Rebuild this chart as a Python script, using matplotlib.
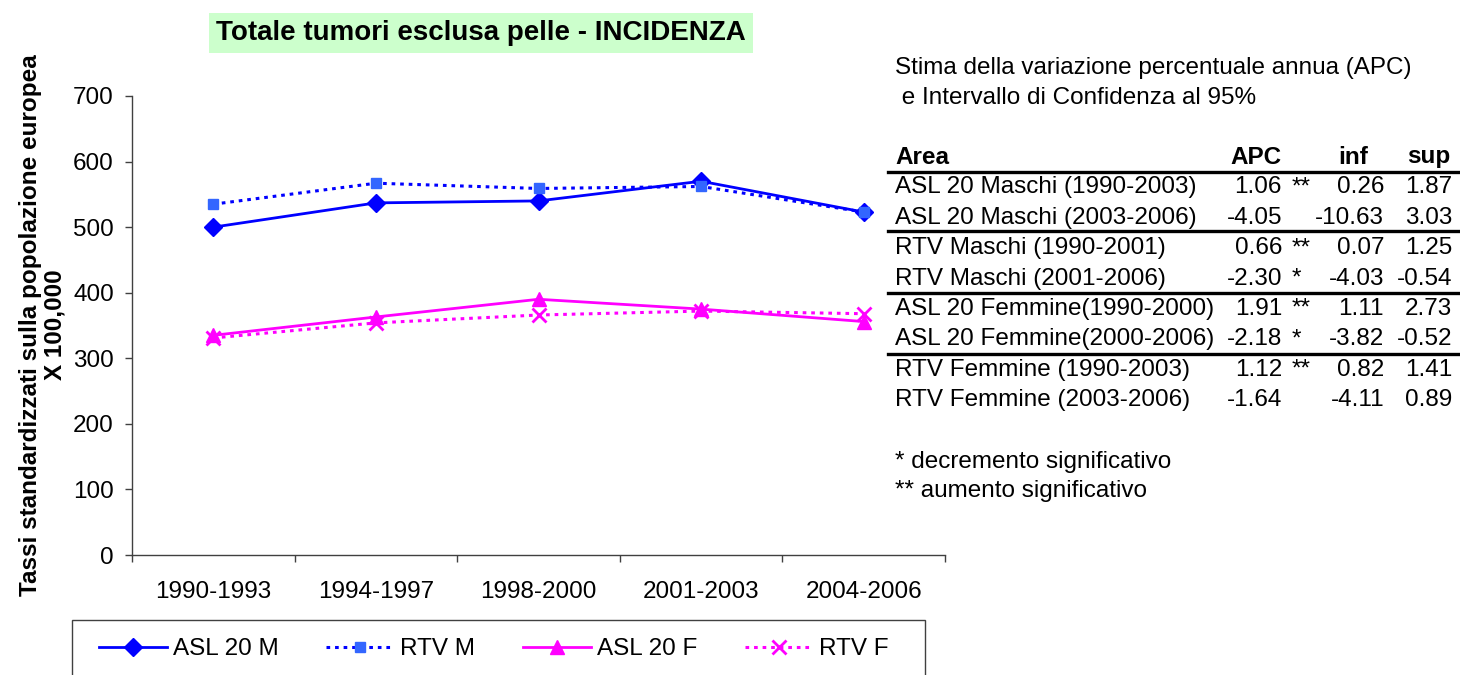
import matplotlib
matplotlib.use("Agg")
import matplotlib.pyplot as plt
from matplotlib.lines import Line2D
from matplotlib.patches import Rectangle

plt.rcParams['font.family'] = ['Liberation Sans', 'DejaVu Sans']

categories = ['1990-1993', '1994-1997', '1998-2000', '2001-2003', '2004-2006']
asl_m = [500, 537, 540, 570, 523]
rtv_m = [535, 567, 559, 562, 523]
asl_f = [335, 363, 390, 375, 356]
rtv_f = [331, 354, 366, 372, 368]
series_labels = ['ASL 20 M', 'RTV M', 'ASL 20 F', 'RTV F']

title = 'Totale tumori esclusa pelle - INCIDENZA'
ylabel = 'Tassi standardizzati sulla popolazione europea\nX 100,000'
yticks = [0, 100, 200, 300, 400, 500, 600, 700]

table_title = ['Stima della variazione percentuale annua (APC)', ' e Intervallo di Confidenza al 95%']
table_header = ['Area', 'APC', 'inf', 'sup']
table_area = ['ASL 20 Maschi (1990-2003)', 'ASL 20 Maschi (2003-2006)',
              'RTV Maschi (1990-2001)', 'RTV Maschi (2001-2006)',
              'ASL 20 Femmine(1990-2000)', 'ASL 20 Femmine(2000-2006)',
              'RTV Femmine (1990-2003)', 'RTV Femmine (2003-2006)']
table_apc = ['1.06', '-4.05', '0.66', '-2.30', '1.91', '-2.18', '1.12', '-1.64']
table_sig = ['**', '', '**', '*', '**', '*', '**', '']
table_inf = ['0.26', '-10.63', '0.07', '-4.03', '1.11', '-3.82', '0.82', '-4.11']
table_sup = ['1.87', '3.03', '1.25', '-0.54', '2.73', '-0.52', '1.41', '0.89']
notes = ['* decremento significativo', '** aumento significativo']

W, H = 1460, 675
fig = plt.figure(figsize=(W / 100, H / 100), dpi=100)

def fx(x):
    return x / W

def fy(y):
    return 1 - y / H

ax = fig.add_axes([fx(132), fy(555), (945 - 132) / W, (555 - 96) / H])
x = list(range(len(categories)))
FS = 17.5

l1, = ax.plot(x, asl_m, color='#0000FF', lw=2, marker='D', ms=9, mfc='#0000FF', mec='#0000FF',
              label=series_labels[0])
l2, = ax.plot(x, rtv_m, color='#0000FF', lw=2.2, ls=(0, (1.2, 1.6)), marker='s', ms=6.5,
              mfc='#3366FF', mec='#3366FF', label=series_labels[1])
l3, = ax.plot(x, asl_f, color='#FF00FF', lw=2, marker='^', ms=10, mfc='#FF00FF', mec='#FF00FF',
              label=series_labels[2])
l4, = ax.plot(x, rtv_f, color='#FF00FF', lw=2.2, ls=(0, (1.2, 1.6)), marker='x', ms=10, mew=2,
              mec='#FF00FF', label=series_labels[3])

ax.set_xlim(-0.5, len(categories) - 0.5)
ax.set_ylim(0, 700)
ax.set_yticks(yticks)
ax.set_yticklabels([str(v) for v in yticks], fontsize=FS)
ax.tick_params(axis='y', direction='out', length=5, width=1, pad=8, color='#404040')

ax.set_xticks([i - 0.5 for i in range(len(categories) + 1)])
ax.set_xticklabels([])
ax.set_xticks(x, minor=True)
ax.set_xticklabels(categories, minor=True, fontsize=FS)
ax.tick_params(axis='x', which='major', direction='out', length=5, width=1, color='#404040')
ax.tick_params(axis='x', which='minor', length=0, pad=19)

for s in ['top', 'right']:
    ax.spines[s].set_visible(False)
for s in ['left', 'bottom']:
    ax.spines[s].set_color('#404040')
    ax.spines[s].set_linewidth(1)

fig.text(fx(43), fy(325), ylabel, rotation=90, ha='center', va='center',
         multialignment='center', fontsize=FS, fontweight='bold', linespacing=1.1)

fig.text(fx(481), fy(33), title, ha='center', va='center', fontsize=20, fontweight='bold',
         bbox=dict(boxstyle='square,pad=0.25', fc='#CCFFCC', ec='none'))

# Right-side table
fig.text(fx(895), fy(68), table_title[0], ha='left', va='center', fontsize=FS)
fig.text(fx(895), fy(98), table_title[1], ha='left', va='center', fontsize=FS)
row_y0 = 157
row_dy = 30.4
fig.text(fx(895), fy(row_y0), table_header[0], ha='left', va='center', fontsize=FS, fontweight='bold')
fig.text(fx(1282), fy(row_y0), table_header[1], ha='right', va='center', fontsize=FS, fontweight='bold')
fig.text(fx(1368), fy(row_y0), table_header[2], ha='right', va='center', fontsize=FS, fontweight='bold')
fig.text(fx(1450), fy(row_y0), table_header[3], ha='right', va='center', fontsize=FS, fontweight='bold')
for i in range(len(table_area)):
    yy = row_y0 + row_dy * (i + 1)
    fig.text(fx(895), fy(yy), table_area[i], ha='left', va='center', fontsize=FS)
    fig.text(fx(1282), fy(yy), table_apc[i], ha='right', va='center', fontsize=FS)
    fig.text(fx(1292), fy(yy), table_sig[i], ha='left', va='center', fontsize=FS)
    fig.text(fx(1384), fy(yy), table_inf[i], ha='right', va='center', fontsize=FS)
    fig.text(fx(1452), fy(yy), table_sup[i], ha='right', va='center', fontsize=FS)
for yl in [172, 231, 293, 354]:
    fig.add_artist(Line2D([fx(888), fx(1460)], [fy(yl), fy(yl)], color='black', lw=2.4,
                          transform=fig.transFigure))
fig.text(fx(895), fy(462), notes[0], ha='left', va='center', fontsize=FS)
fig.text(fx(895), fy(491), notes[1], ha='left', va='center', fontsize=FS)

# Legend box + frameless legend
fig.add_artist(Rectangle((fx(72), fy(685)), (925 - 72) / W, (685 - 620) / H,
                         transform=fig.transFigure, fill=False, ec='#404040', lw=1))
leg = fig.legend(handles=[l1, l2, l3, l4], labels=series_labels, ncol=4, loc='center left',
                 bbox_to_anchor=(fx(99), fy(649)), fontsize=FS, frameon=False,
                 handlelength=2.8, handletextpad=0.25, columnspacing=1.95,
                 borderpad=0, borderaxespad=0)

fig.savefig('out.png', dpi=100)
